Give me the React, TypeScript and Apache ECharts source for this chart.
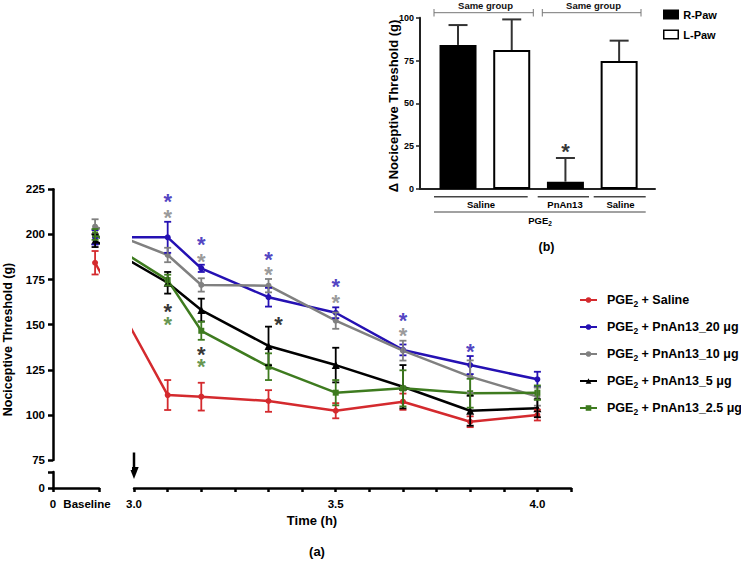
import React, { useEffect, useRef } from "react";
import * as echarts from "echarts";

const FONT = "'Liberation Sans', Arial, sans-serif";

// ---------- main chart (a) data ----------
const SERIES_NAMES = [
  "PGE2 + Saline",
  "PGE2 + PnAn13_20 μg",
  "PGE2 + PnAn13_10 μg",
  "PGE2 + PnAn13_5 μg",
  "PGE2 + PnAn13_2.5 μg",
];
// time points in minutes (3.0 h = 180 min); first value of every series is the baseline
const TIMES_MIN = [185, 190, 200, 210, 220, 230, 240];

const salineMean = [184.3, 111.0, 110.1, 107.7, 102.3, 107.3, 96.2, 99.9];
const salineErr = [6.5, 8.3, 7.7, 6.0, 4.2, 4.5, 3.0, 3.0];
const pn20Mean = [198.4, 198.4, 181.2, 165.2, 156.6, 136.0, 127.6, 119.7];
const pn20Err = [4.0, 8.6, 2.0, 5.2, 3.0, 3.0, 5.0, 4.2];
const pn10Mean = [204.3, 188.6, 172.0, 171.6, 152.2, 135.6, 121.2, 110.1];
const pn10Err = [4.1, 4.0, 3.7, 3.7, 4.5, 5.5, 9.0, 5.0];
const pn5Mean = [196.5, 173.2, 158.1, 138.2, 127.6, 115.6, 102.3, 103.7];
const pn5Err = [3.5, 6.0, 6.3, 10.7, 9.6, 12.0, 8.3, 5.0];
const pn25Mean = [200.0, 174.7, 146.6, 126.7, 112.3, 114.7, 112.0, 112.3];
const pn25Err = [3.0, 3.0, 5.0, 7.4, 7.0, 10.0, 8.0, 4.0];

// significance asterisks (value level of the asterisk)
const salineStars = [null, null, null, null, null, null, null, null];
const pn20Stars = [null, 220.9, 197.3, 189.1, 173.8, 155.3, 137.8, null];
const pn10Stars = [null, 212.0, 188.0, 180.3, 165.3, 147.0, null, null];
const pn5Stars = [null, 160.3, 136.0, 152.6, null, null, null, null];
const pn25Stars = [null, 152.6, 129.5, null, null, null, null, null];

const Y_TICKS_MAIN = [75, 100, 125, 150, 175, 200, 225];

// ---------- inset (b) data ----------
const INSET_NAMES = ["R-Paw", "L-Paw"];
const rPaw = [84.1, null, 4.3, null];
const lPaw = [null, 81.1, null, 74.7];
const pawErr = [11.6, 17.9, 13.8, 11.9];
const insetStars = [null, null, 24.7, null];

// ---------- layout / style constants ----------
const COLORS = ["#d42a2e", "#2511b3", "#808080", "#000000", "#3e7b1f"];
const SYMBOLS = ["circle", "circle", "circle", "triangle", "rect"];
const BASELINE_X = 174.2; // virtual minute position of the baseline column
const X_MIN = 167.94;
const X_MAX = 245;
const INSET_X0 = 0.708;
const INSET_X_MAX = 4.376;

const MEANS = [salineMean, pn20Mean, pn10Mean, pn5Mean, pn25Mean];
const ERRS = [salineErr, pn20Err, pn10Err, pn5Err, pn25Err];
const STARS = [salineStars, pn20Stars, pn10Stars, pn5Stars, pn25Stars];
const XS = [BASELINE_X, ...TIMES_MIN];

const bold = (size: number, color = "#000") => ({
  fontFamily: FONT,
  fontWeight: "bold" as const,
  fontSize: size,
  color,
});

function errRender(color: string, cap: number, lw: number, onlyUp: boolean) {
  return (params: any, api: any) => {
    const x = api.value(0);
    const y = api.value(1);
    const e = api.value(2);
    const top = api.coord([x, y + e]);
    const bot = api.coord([x, onlyUp ? y : y - e]);
    const style = { stroke: color, lineWidth: lw };
    const children: any[] = [
      { type: "line", shape: { x1: top[0], y1: top[1], x2: bot[0], y2: bot[1] }, style },
      { type: "line", shape: { x1: top[0] - cap, y1: top[1], x2: top[0] + cap, y2: top[1] }, style },
    ];
    if (!onlyUp) {
      children.push({ type: "line", shape: { x1: bot[0] - cap, y1: bot[1], x2: bot[0] + cap, y2: bot[1] }, style });
    }
    return { type: "group", children };
  };
}

const STAR_SIZE = 22;
const STAR_DY = 5;

function buildOption() {
  const axisLine = { show: true, lineStyle: { color: "#000", width: 2.5 } };
  const series: any[] = [];

  MEANS.forEach((m, s) => {
    series.push({
      name: SERIES_NAMES[s],
      type: "line",
      xAxisIndex: 0,
      yAxisIndex: 0,
      data: m.map((v, i) => [XS[i], v]),
      symbol: SYMBOLS[s],
      symbolSize: s === 3 ? 8 : 6,
      lineStyle: { color: COLORS[s], width: 2.5 },
      itemStyle: { color: COLORS[s] },
      z: 3,
    });
    series.push({
      name: SERIES_NAMES[s] + " err",
      type: "custom",
      xAxisIndex: 0,
      yAxisIndex: 0,
      data: m.map((v, i) => [XS[i], v, ERRS[s][i]]),
      renderItem: errRender(COLORS[s], 3.5, 1.8, false),
      z: 4,
      silent: true,
    });
    const starData = STARS[s]
      .map((v, i) =>
        v == null
          ? null
          : {
              value: [XS[i], v],
              label: { offset: [s === 3 && i === 3 ? 10 : 0, STAR_DY] },
            }
      )
      .filter((d) => d != null);
    if (starData.length) {
      series.push({
        name: SERIES_NAMES[s] + " sig",
        type: "scatter",
        xAxisIndex: 0,
        yAxisIndex: 0,
        symbolSize: 0.1,
        itemStyle: { color: "transparent" },
        data: starData,
        label: {
          show: true,
          formatter: "*",
          position: "inside",
          lineHeight: 11,
          ...bold(STAR_SIZE, COLORS[s]),
        },
        silent: true,
        z: 6,
      });
    }
  });

  // inset bars
  series.push({
    name: INSET_NAMES[0],
    type: "bar",
    xAxisIndex: 3,
    yAxisIndex: 3,
    stack: "paw",
    barWidth: 37,
    data: rPaw.map((v, i) => (v == null ? null : [INSET_X0 + i, v])).filter((d) => d),
    itemStyle: { color: "#000", borderColor: "#000", borderWidth: 2 },
  });
  series.push({
    name: INSET_NAMES[1],
    type: "bar",
    xAxisIndex: 3,
    yAxisIndex: 3,
    stack: "paw",
    barWidth: 37,
    data: lPaw.map((v, i) => (v == null ? null : [INSET_X0 + i, v])).filter((d) => d),
    itemStyle: { color: "#fff", borderColor: "#000", borderWidth: 2 },
  });
  series.push({
    name: "paw err",
    type: "custom",
    xAxisIndex: 3,
    yAxisIndex: 3,
    data: pawErr.map((e, i) => [INSET_X0 + i, (rPaw[i] ?? lPaw[i]) as number, e]),
    renderItem: errRender("#333", 9.5, 2, true),
    z: 1,
    silent: true,
  });
  series.push({
    name: "paw sig",
    type: "scatter",
    xAxisIndex: 3,
    yAxisIndex: 3,
    symbolSize: 0.1,
    itemStyle: { color: "transparent" },
    data: insetStars.map((v, i) => (v == null ? null : [INSET_X0 + i, v])).filter((d) => d),
    label: { show: true, formatter: "*", position: "inside", offset: [0, STAR_DY], lineHeight: 11, ...bold(STAR_SIZE) },
    silent: true,
  });

  const rotTitle = (x: number, y: number, text: string, size: number) => ({
    type: "text",
    x,
    y,
    rotation: Math.PI / 2,
    style: { text, align: "center", verticalAlign: "middle", fill: "#000", font: `bold ${size}px ${FONT}` },
    z: 50,
  });
  const txt = (x: number, y: number, text: string, size: number, fill = "#000") => ({
    type: "text",
    x,
    y,
    style: { text, align: "center", verticalAlign: "middle", fill, font: `bold ${size}px ${FONT}` },
    z: 50,
  });
  const ln = (x1: number, y1: number, x2: number, y2: number, stroke: string, lw: number) => ({
    type: "line",
    shape: { x1, y1, x2, y2 },
    style: { stroke, lineWidth: lw },
    z: 50,
  });

  const graphic: any[] = [
    // gap between baseline and time segments
    { type: "rect", shape: { x: 100, y: 180, width: 32, height: 290 }, style: { fill: "#fff" }, z: 100 },
    // injection arrow
    ln(134, 452.5, 134, 469, "#000", 2.5),
    { type: "polygon", shape: { points: [[129.3, 467], [138.7, 467], [134, 479]] }, style: { fill: "#000" }, z: 50 },
    txt(87, 503.5, "Baseline", 11.5),
    txt(312, 520, "Time (h)", 13),
    txt(317, 551.5, "(a)", 13),
    rotTitle(7.5, 339.5, "Nociceptive Threshold (g)", 12.5),
    // inset annotations
    rotTitle(393.5, 106, "Δ Nociceptive Threshold (g)", 13),
    ln(434, 12.7, 533.3, 12.7, "#777", 1),
    ln(434, 9, 434, 16.5, "#777", 1),
    ln(533.3, 9, 533.3, 16.5, "#777", 1),
    txt(485.5, 5.5, "Same group", 9.5, "#111"),
    ln(542.3, 12.7, 641, 12.7, "#777", 1),
    ln(542.3, 9, 542.3, 16.5, "#777", 1),
    ln(641, 9, 641, 16.5, "#777", 1),
    txt(593.5, 5.5, "Same group", 9.5, "#111"),
    ln(434, 196.7, 527.7, 196.7, "#444", 1.5),
    ln(537.7, 196.7, 589, 196.7, "#444", 1.5),
    ln(593.7, 196.7, 645.7, 196.7, "#444", 1.5),
    txt(481, 204.5, "Saline", 9.5),
    txt(565, 204.5, "PnAn13", 9.5),
    txt(620.5, 204.5, "Saline", 9.5),
    ln(434, 212, 645.7, 212, "#444", 1.2),
    {
      type: "text",
      x: 540,
      y: 220.5,
      style: {
        text: "{a|PGE}{s|2}",
        align: "center",
        verticalAlign: "middle",
        rich: {
          a: { fontFamily: FONT, fontWeight: "bold", fontSize: 9.5, lineHeight: 12 },
          s: { fontFamily: FONT, fontWeight: "bold", fontSize: 6.5, lineHeight: 8, verticalAlign: "bottom" },
        },
      },
      z: 50,
    },
    txt(546.5, 246.5, "(b)", 12.5),
  ];

  return {
    animation: false,
    backgroundColor: "#fff",
    textStyle: { fontFamily: FONT },
    grid: [
      { left: 53, top: 189.3, width: 518, height: 270.7 },
      { left: 53, top: 472, width: 46, height: 16 },
      { left: 134, top: 472, width: 437, height: 16 },
      { left: 420, top: 17.7, width: 235, height: 171.3 },
    ],
    xAxis: [
      { gridIndex: 0, type: "value", min: X_MIN, max: X_MAX, show: false },
      {
        gridIndex: 1,
        type: "value",
        min: 0,
        max: 1,
        interval: 1,
        axisLine,
        axisTick: { show: true, length: 4, lineStyle: { width: 2.5, color: "#000" } },
        axisLabel: { ...bold(11.5), margin: 10, formatter: (v: number) => (v === 0 ? "0" : "") },
        splitLine: { show: false },
      },
      {
        gridIndex: 2,
        type: "value",
        min: 180,
        max: 245,
        interval: 5,
        axisLine,
        axisTick: { show: true, length: 4, lineStyle: { width: 2.5, color: "#000" } },
        axisLabel: {
          ...bold(11.5),
          margin: 10,
          formatter: (v: number) => (Math.round(v) % 30 === 0 ? (v / 60).toFixed(1) : ""),
        },
        splitLine: { show: false },
      },
      {
        gridIndex: 3,
        type: "value",
        min: 0,
        max: INSET_X_MAX,
        axisLine: { show: true, lineStyle: { color: "#222", width: 2 } },
        axisTick: { show: false },
        axisLabel: { show: false },
        splitLine: { show: false },
      },
    ],
    yAxis: [
      {
        gridIndex: 0,
        type: "value",
        min: Y_TICKS_MAIN[0],
        max: Y_TICKS_MAIN[Y_TICKS_MAIN.length - 1],
        interval: 25,
        axisLine,
        axisTick: { show: true, length: 5, lineStyle: { width: 2.5, color: "#000" } },
        axisLabel: { ...bold(11.5), margin: 8 },
        splitLine: { show: false },
      },
      {
        gridIndex: 1,
        type: "value",
        min: 0,
        max: 10,
        interval: 10,
        axisLine,
        axisTick: { show: true, length: 5, lineStyle: { width: 2.5, color: "#000" } },
        axisLabel: { ...bold(11.5), margin: 8, formatter: (v: number) => (v === 0 ? "0" : "") },
        splitLine: { show: false },
      },
      { gridIndex: 2, type: "value", min: 0, max: 10, show: false },
      {
        gridIndex: 3,
        type: "value",
        min: 0,
        max: 100,
        interval: 25,
        axisLine: { show: true, lineStyle: { color: "#222", width: 2 } },
        axisTick: { show: true, length: 4, lineStyle: { width: 1.5, color: "#222" } },
        axisLabel: { ...bold(9), margin: 6 },
        splitLine: { show: false },
      },
    ],
    legend: [
      {
        data: SERIES_NAMES,
        orient: "vertical",
        left: 574,
        top: 287,
        itemWidth: 17,
        itemHeight: 7,
        itemGap: 11,
        formatter: (name: string) => name.replace("PGE2", "PGE{sub|2}"),
        textStyle: {
          ...bold(12.5),
          lineHeight: 16,
          padding: [0, 0, 0, 5],
          rich: {
            sub: { fontFamily: FONT, fontWeight: "bold", fontSize: 8.5, lineHeight: 11, verticalAlign: "bottom" },
          },
        },
      },
      {
        data: INSET_NAMES,
        orient: "vertical",
        left: 658,
        top: 3,
        icon: "rect",
        itemWidth: 14.5,
        itemHeight: 8.5,
        itemGap: 7,
        itemStyle: { borderWidth: 1.5 },
        textStyle: { ...bold(11), lineHeight: 13 },
      },
    ],
    series,
    graphic,
  };
}

export default function App() {
  const ref = useRef<HTMLDivElement>(null);
  useEffect(() => {
    const chart = echarts.init(ref.current!, null, { renderer: "svg" });
    chart.setOption(buildOption() as any);
    return () => chart.dispose();
  }, []);
  return <div ref={ref} style={{ position: "fixed", left: 0, top: 0, width: 741, height: 561 }} />;
}
